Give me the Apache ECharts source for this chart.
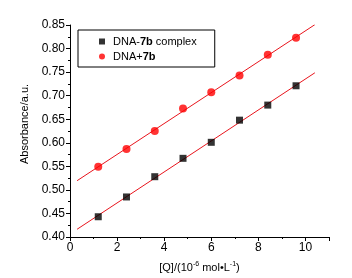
<!DOCTYPE html>
<html>
<head>
<meta charset="utf-8">
<script src="https://cdn.jsdelivr.net/npm/echarts@6/dist/echarts.min.js"></script>
<style>
html, body { margin: 0; padding: 0; background: #fff; }
#main { width: 352px; height: 278px; }
</style>
</head>
<body>
<div id="main"></div>
<script>
// 浓度 [Q] (10^-6 mol/L)
var conc = [1.2, 2.4, 3.6, 4.8, 6.0, 7.2, 8.4, 9.6];
// DNA-7b complex
var complexVals = [0.443, 0.485, 0.528, 0.567, 0.601, 0.648, 0.680, 0.721];
// DNA+7b
var sumVals = [0.549, 0.587, 0.625, 0.673, 0.707, 0.743, 0.787, 0.823];
// fit line range
var fitRange = [0.3, 10.4];

// 最小二乘拟合
function linFit(xs, ys) {
    var n = xs.length, sx = 0, sy = 0, sxx = 0, sxy = 0;
    for (var i = 0; i < n; i++) {
        sx += xs[i]; sy += ys[i];
        sxx += xs[i] * xs[i]; sxy += xs[i] * ys[i];
    }
    var k = (n * sxy - sx * sy) / (n * sxx - sx * sx);
    var b = (sy - k * sx) / n;
    return fitRange.map(function (x) { return [x, k * x + b]; });
}

function pairs(xs, ys) {
    return xs.map(function (x, i) { return [x, ys[i]]; });
}

var font = 'Liberation Sans, Arial, sans-serif';

var option = {
    animation: false,
    grid: { left: 70, right: 23, top: 25, bottom: 41 },
    legend: {
        orient: 'vertical',
        left: 78, top: 30,
        borderColor: '#000', borderWidth: 1, borderRadius: 0,
        padding: [6, 18, 5, 21],
        itemGap: 4,
        itemWidth: 6, itemHeight: 6,
        data: [
            { name: 'DNA-7b complex', icon: 'rect' },
            { name: 'DNA+7b', icon: 'circle' }
        ],
        formatter: function (name) {
            if (name === 'DNA-7b complex') return 'DNA-{b|7b} complex';
            return 'DNA+{b|7b}';
        },
        textStyle: {
            fontFamily: font, fontSize: 11, color: '#000', padding: [0, 0, 0, 3],
            rich: { b: { fontFamily: font, fontSize: 11, fontWeight: 'bold', color: '#000' } }
        }
    },
    xAxis: {
        type: 'value', min: 0, max: 11, interval: 2,
        name: '[Q]/(10{sup|-6} mol\u2022L{sup|-1})',
        nameLocation: 'middle', nameGap: 24,
        nameTextStyle: {
            fontFamily: font, fontSize: 11, color: '#000',
            rich: { sup: { fontFamily: font, fontSize: 7, color: '#000', verticalAlign: 'top', padding: [0, 0, 6, 0] } }
        },
        axisLine: { onZero: false, lineStyle: { color: '#000', width: 1 } },
        axisTick: { inside: false, length: 4, lineStyle: { color: '#000' } },
        minorTick: { show: true, splitNumber: 2, length: 2, lineStyle: { color: '#000' } },
        axisLabel: { fontFamily: font, fontSize: 12, color: '#000', margin: 5, showMaxLabel: false },
        splitLine: { show: false }
    },
    yAxis: {
        type: 'value', min: 0.40, max: 0.85, interval: 0.05,
        name: 'Absorbance/a.u.',
        nameLocation: 'middle', nameGap: 38,
        nameTextStyle: { fontFamily: font, fontSize: 11, color: '#000', padding: [0, 0, 0, 14] },
        axisLine: { show: true, onZero: false, lineStyle: { color: '#000', width: 1 } },
        axisTick: { show: true, inside: false, length: 4, lineStyle: { color: '#000' } },
        minorTick: { show: true, splitNumber: 2, length: 2, lineStyle: { color: '#000' } },
        axisLabel: {
            fontFamily: font, fontSize: 12, color: '#000', margin: 5,
            formatter: function (v) { return v.toFixed(2); }
        },
        splitLine: { show: false }
    },
    series: [{
        name: 'fit1', type: 'line', data: linFit(conc, complexVals),
        showSymbol: false, symbol: 'none', silent: true,
        lineStyle: { color: '#e8141c', width: 1 }, z: 1
    }, {
        name: 'fit2', type: 'line', data: linFit(conc, sumVals),
        showSymbol: false, symbol: 'none', silent: true,
        lineStyle: { color: '#e8141c', width: 1 }, z: 1
    }, {
        name: 'DNA-7b complex', type: 'scatter', data: pairs(conc, complexVals),
        symbol: 'rect', symbolSize: 7,
        itemStyle: { color: '#000' }, z: 3
    }, {
        name: 'DNA+7b', type: 'scatter', data: pairs(conc, sumVals),
        symbol: 'circle', symbolSize: 8,
        itemStyle: { color: '#f00' }, z: 3
    }]
};

var chart = echarts.init(document.getElementById('main'));
chart.setOption(option);
</script>
</body>
</html>
